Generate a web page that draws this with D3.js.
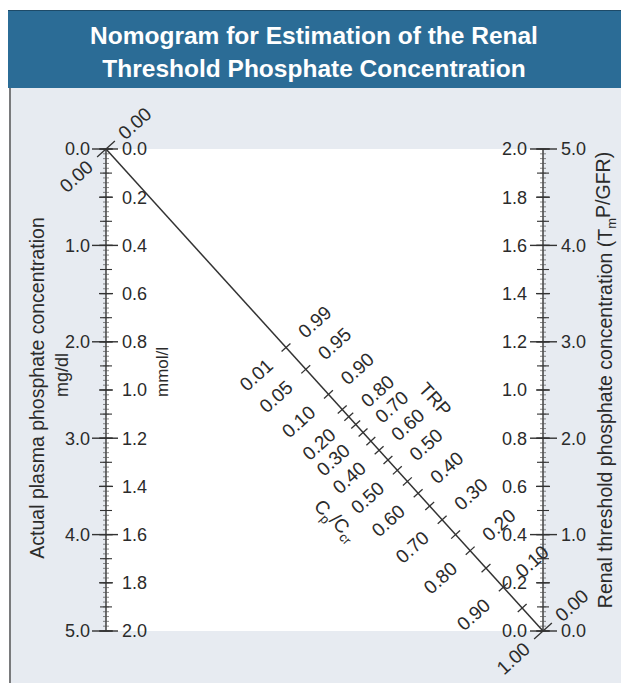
<!DOCTYPE html>
<html><head><meta charset="utf-8">
<script src="https://cdn.jsdelivr.net/npm/d3@7"></script>
<style>
html,body{margin:0;padding:0;background:#fff;}
svg text{font-family:"Liberation Sans",Arial,Helvetica,sans-serif;}
</style></head>
<body>
<svg id="c" width="621" height="683"></svg>
<script>
// ---- data ----
const titleLines = ["Nomogram for Estimation of the Renal", "Threshold Phosphate Concentration"];
const plasmaMgdlLabels = [0, 1, 2, 3, 4, 5];                 // left outer scale (mg/dl)
const plasmaMmolLabels = [0, 0.2, 0.4, 0.6, 0.8, 1.0, 1.2, 1.4, 1.6, 1.8, 2.0]; // left inner (mmol/l)
const tmpMmolLabels = [0, 0.2, 0.4, 0.6, 0.8, 1.0, 1.2, 1.4, 1.6, 1.8, 2.0];    // right inner (mmol/l)
const tmpMgdlLabels = [0, 1, 2, 3, 4, 5];                     // right outer (mg/dl)
const trpTicks = [0.99, 0.95, 0.90, 0.85, 0.80, 0.75, 0.70, 0.65, 0.60, 0.55, 0.50, 0.45, 0.40, 0.35, 0.30, 0.25, 0.20, 0.15, 0.10, 0.05];
const trpLabels = [0.99, 0.95, 0.90, 0.80, 0.70, 0.60, 0.50, 0.40, 0.30, 0.20, 0.10, 0.00];
const cpccrLabels = [0.01, 0.05, 0.10, 0.20, 0.30, 0.40, 0.50, 0.60, 0.70, 0.80, 0.90, 1.00];
const topEndLabels = ["0.00", "0.00"]; // [TRP side, Cp/Ccr side] at the upper end of the diagonal

// ---- layout ----
const svg = d3.select("#c");
const X_L = 106, X_R = 543, Y_T = 149, Y_B = 631;

const yL = d3.scaleLinear().domain([0, 2]).range([Y_T, Y_B]);   // plasma, mmol/l
const yLmg = d3.scaleLinear().domain([0, 5]).range([Y_T, Y_B]); // plasma, mg/dl (as drawn)
const yR = d3.scaleLinear().domain([0, 2]).range([Y_B, Y_T]);   // TmP/GFR, mmol/l
const yRmg = d3.scaleLinear().domain([0, 5]).range([Y_B, Y_T]); // TmP/GFR, mg/dl (as drawn)

const textCol = "#2b2b2b", lineCol = "#333";

// backgrounds
svg.append("rect").attr("x", 9).attr("y", 88).attr("width", 612).attr("height", 595).attr("fill", "#e7ebf1");
svg.append("line").attr("x1", 10).attr("x2", 10).attr("y1", 88).attr("y2", 683).attr("stroke", "#555").attr("stroke-width", 1.5);
svg.append("rect").attr("x", X_L).attr("y", Y_T).attr("width", X_R - X_L).attr("height", Y_B - Y_T).attr("fill", "#ffffff");
svg.append("rect").attr("x", 8).attr("y", 10).attr("width", 613).attr("height", 78).attr("fill", "#2b6c96");
svg.append("line").attr("x1", 8).attr("x2", 621).attr("y1", 10.5).attr("y2", 10.5).attr("stroke", "#1d4a68").attr("stroke-width", 1);

svg.selectAll("text.title").data(titleLines).join("text")
  .attr("class", "title")
  .attr("x", 314).attr("y", (d, i) => 44 + i * 33)
  .attr("text-anchor", "middle").attr("fill", "#fff")
  .attr("font-size", 24.5).attr("font-weight", "bold").text(d => d);

// ---- vertical scales ----
function drawAxis(x, scale, mgScale, mmolLabels, mgLabels, side) {
  const g = svg.append("g");
  g.append("line").attr("x1", x).attr("x2", x).attr("y1", Y_T).attr("y2", Y_B).attr("stroke", lineCol).attr("stroke-width", 1.4);
  const minor = d3.range(0, 2.0001, 0.02);
  g.selectAll("line.mi").data(minor).join("line")
    .attr("x1", x - 3).attr("x2", x + 3)
    .attr("y1", d => scale(d)).attr("y2", d => scale(d))
    .attr("stroke", "#555").attr("stroke-width", 0.7);
  const mid = d3.range(0, 2.0001, 0.1);
  g.selectAll("line.md").data(mid).join("line")
    .attr("x1", x - 6).attr("x2", x + 6)
    .attr("y1", d => scale(d)).attr("y2", d => scale(d))
    .attr("stroke", lineCol).attr("stroke-width", 1.1);
  g.selectAll("line.mj").data(mgLabels).join("line")
    .attr("x1", side === "left" ? x - 14 : x - 13)
    .attr("x2", side === "left" ? x + 12 : x + 14)
    .attr("y1", d => mgScale(d)).attr("y2", d => mgScale(d))
    .attr("stroke", lineCol).attr("stroke-width", 1.4);
  g.selectAll("line.lb").data(mmolLabels).join("line")
    .attr("x1", x - 7).attr("x2", x + 7)
    .attr("y1", d => scale(d)).attr("y2", d => scale(d))
    .attr("stroke", lineCol).attr("stroke-width", 1.3);
  const mgX = side === "left" ? x - 16 : x + 18;
  const mmX = side === "left" ? x + 16 : x - 16;
  g.selectAll("text.mg").data(mgLabels).join("text")
    .attr("x", mgX).attr("y", d => mgScale(d)).attr("dy", "0.36em")
    .attr("text-anchor", side === "left" ? "end" : "start")
    .attr("font-size", 18).attr("fill", textCol).text(d => d3.format(".1f")(d));
  g.selectAll("text.mm").data(mmolLabels).join("text")
    .attr("x", mmX).attr("y", d => scale(d)).attr("dy", "0.36em")
    .attr("text-anchor", side === "left" ? "start" : "end")
    .attr("font-size", 18).attr("fill", textCol).text(d => d3.format(".1f")(d));
}
drawAxis(X_L, yL, yLmg, plasmaMmolLabels, plasmaMgdlLabels, "left");
drawAxis(X_R, yR, yRmg, tmpMmolLabels, tmpMgdlLabels, "right");

// ---- diagonal TRP scale ----
const P0 = [X_L, yL(0)], P1 = [X_R, yR(0)];
const len = Math.hypot(P1[0] - P0[0], P1[1] - P0[1]);
const u = [(P1[0] - P0[0]) / len, (P1[1] - P0[1]) / len]; // along diagonal
const nrm = [-u[1], u[0]]; // perpendicular, pointing down-left
const angle = Math.atan2(u[1], u[0]) * 180 / Math.PI;

// Walton–Bijvoet relation: TmP/GFR = alpha * Pp
const alpha = t => t > 0.86 ? 0.3 * t / (1 - 0.8 * t) : t;
// position on the diagonal: where the line (left Pp = 1) -> (right TmP/GFR = alpha) crosses it
function trpPos(t) {
  const a = [X_L, yL(1)], b = [X_R, yR(alpha(t))];
  const d1 = [b[0] - a[0], b[1] - a[1]], d2 = [P1[0] - P0[0], P1[1] - P0[1]];
  const w = [a[0] - P0[0], a[1] - P0[1]];
  const s = (w[0] * d1[1] - w[1] * d1[0]) / (d2[0] * d1[1] - d2[1] * d1[0]);
  return [P0[0] + s * d2[0], P0[1] + s * d2[1]];
}

svg.append("line").attr("x1", P0[0]).attr("y1", P0[1]).attr("x2", P1[0]).attr("y2", P1[1])
  .attr("stroke", lineCol).attr("stroke-width", 1.5);
svg.selectAll("line.trp").data(trpTicks).join("line")
  .attr("x1", d => trpPos(d)[0] + nrm[0] * 6).attr("y1", d => trpPos(d)[1] + nrm[1] * 6)
  .attr("x2", d => trpPos(d)[0] - nrm[0] * 6).attr("y2", d => trpPos(d)[1] - nrm[1] * 6)
  .attr("stroke", lineCol).attr("stroke-width", 1.3);
[P0, P1].forEach(p => {
  svg.append("line")
    .attr("x1", p[0] + nrm[0] * 12).attr("y1", p[1] + nrm[1] * 12)
    .attr("x2", p[0] - nrm[0] * 12).attr("y2", p[1] - nrm[1] * 12)
    .attr("stroke", lineCol).attr("stroke-width", 1.3);
});

const rot = angle - 90; // text perpendicular to the diagonal
const DF = 19;
svg.selectAll("text.trpl").data(trpLabels).join("text")
  .attr("transform", d => { const p = trpPos(d); return `translate(${p[0] - nrm[0] * 20},${p[1] - nrm[1] * 20}) rotate(${rot})`; })
  .attr("dy", "0.36em").attr("text-anchor", "start").attr("font-size", DF).attr("fill", textCol)
  .text(d => d3.format(".2f")(d));
svg.selectAll("text.cpl").data(cpccrLabels).join("text")
  .attr("transform", d => { const p = trpPos(1 - d); return `translate(${p[0] + nrm[0] * 22},${p[1] + nrm[1] * 22}) rotate(${rot})`; })
  .attr("dy", "0.36em").attr("text-anchor", "end").attr("font-size", DF).attr("fill", textCol)
  .text(d => d3.format(".2f")(d));
svg.append("text").attr("transform", `translate(${P0[0] - nrm[0] * 20},${P0[1] - nrm[1] * 20}) rotate(${rot})`)
  .attr("dy", "0.36em").attr("font-size", DF).attr("fill", textCol).text(topEndLabels[0]);
svg.append("text").attr("transform", `translate(${P0[0] + nrm[0] * 22},${P0[1] + nrm[1] * 22}) rotate(${rot})`)
  .attr("dy", "0.36em").attr("text-anchor", "end").attr("font-size", DF).attr("fill", textCol).text(topEndLabels[1]);

function diagPoint(s, off) {
  return [P0[0] + u[0] * len * s + nrm[0] * off, P0[1] + u[1] * len * s + nrm[1] * off];
}
const trpP = diagPoint(0.625, -76);
svg.append("text").attr("transform", `translate(${trpP[0]},${trpP[1]}) rotate(${angle})`)
  .attr("text-anchor", "middle").attr("dy", "0.36em").attr("font-size", DF).attr("fill", textCol).text("TRP");
const cpP = diagPoint(0.66, 80);
const cpT = svg.append("text").attr("transform", `translate(${cpP[0]},${cpP[1]}) rotate(${angle})`)
  .attr("text-anchor", "middle").attr("dy", "0.36em").attr("font-size", DF).attr("fill", textCol);
cpT.append("tspan").text("C");
cpT.append("tspan").attr("font-size", 13).attr("dy", "0.3em").text("p");
cpT.append("tspan").attr("dy", "-0.3em").text("/C");
cpT.append("tspan").attr("font-size", 13).attr("dy", "0.3em").text("cr");

// axis titles
svg.append("text").attr("transform", `translate(44,388) rotate(-90)`)
  .attr("text-anchor", "middle").attr("font-size", 19.5).attr("fill", textCol).text("Actual plasma phosphate concentration");
svg.append("text").attr("transform", `translate(68,375) rotate(-90)`)
  .attr("text-anchor", "middle").attr("font-size", 18).attr("fill", textCol).text("mg/dl");
svg.append("text").attr("transform", `translate(168,372) rotate(-90)`)
  .attr("text-anchor", "middle").attr("font-size", 17).attr("fill", textCol).text("mmol/l");
const rt = svg.append("text").attr("transform", `translate(612,380) rotate(-90)`)
  .attr("text-anchor", "middle").attr("font-size", 19.5).attr("fill", textCol);
rt.append("tspan").text("Renal threshold phosphate concentration (T");
rt.append("tspan").attr("font-size", 13).attr("dy", "0.3em").text("m");
rt.append("tspan").attr("dy", "-0.3em").text("P/GFR)");
</script>
</body></html>
